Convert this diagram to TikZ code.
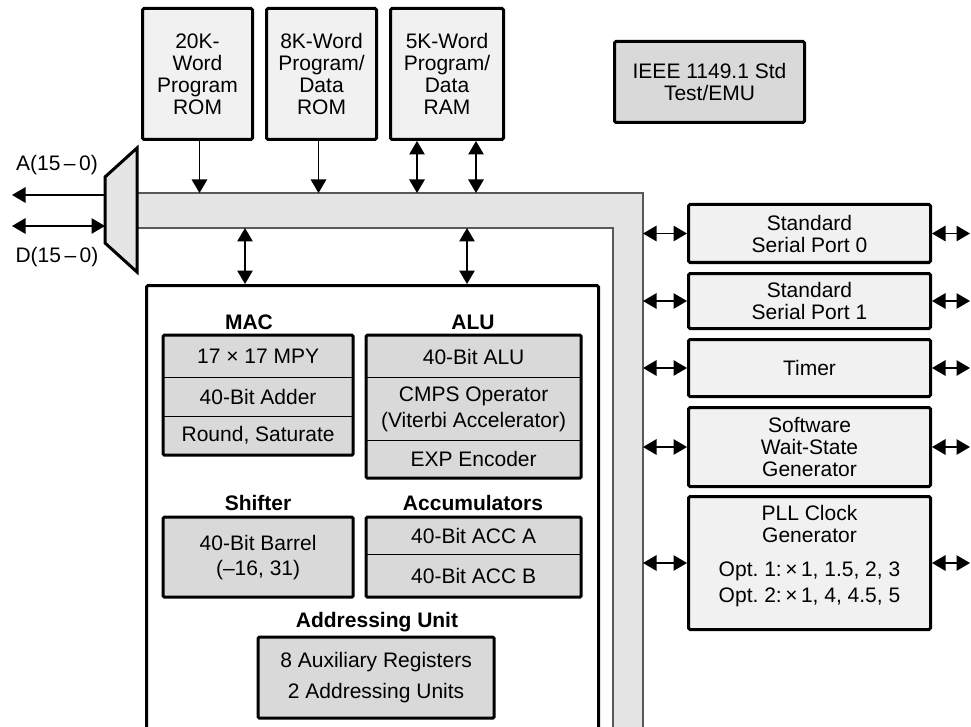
\documentclass[tikz,border=0pt]{standalone}
\usepackage{fontspec}
\setmainfont{Liberation Sans}
\usetikzlibrary{arrows.meta}
\frenchspacing
\definecolor{lightbox}{gray}{0.945}
\definecolor{midbox}{gray}{0.85}
\definecolor{busgray}{gray}{0.9}
\definecolor{busline}{gray}{0.35}
\tikzset{
  basefont/.style={font=\fontsize{21}{22}\selectfont},
  hdr/.style={font=\fontsize{21}{22}\selectfont\bfseries},
  frame/.style={draw=black, line width=3pt, rounded corners=1.5pt},
  membox/.style={frame, fill=lightbox, anchor=north west},
  midboxs/.style={frame, fill=midbox, anchor=north west},
  row/.style={draw=black, line width=1.2pt, fill=midbox, anchor=north west},
  tip/.tip={Triangle[length=13.5pt,width=15.5pt]},
  uni/.style={line width=1.3pt, -tip},
  bi/.style={line width=1.3pt, tip-tip},
  busedge/.style={draw=busline, line width=1.5pt}
}
\begin{document}
\begin{tikzpicture}[x=1pt,y=-1pt,
  every node/.style={basefont, align=center, inner sep=0pt}]
\useasboundingbox (0,0) rectangle (971,727);
\clip (0,0) rectangle (971,727);

% bus
\fill[busgray] (137,193) -- (643,193) -- (643,740) -- (613,740) -- (613,228) -- (137,228) -- cycle;
\draw[busedge] (137,193) -- (643,193) -- (643,740);
\draw[busedge] (137,228) -- (613,228) -- (613,740);
\coordinate (bustop) at (0,193);
\coordinate (busin) at (0,228);
\coordinate (busR) at (643,0);
\coordinate (edgeR) at (970,0);

% mux
\draw[line width=3pt, fill=busgray, line join=miter] (105,177) -- (137,148) -- (137,272) -- (105,243) -- cycle;
\coordinate (muxA) at (105,195);
\coordinate (muxD) at (105,226);
\coordinate (aEnd) at (12,195);
\coordinate (dEnd) at (12,226);
\node (alab) at (57,165) {A(15\,–\,0)};
\node (dlab) at (57,257) {D(15\,–\,0)};
\draw[uni] (muxA) -- (aEnd);
\draw[bi] (dEnd) -- (muxD);

% memories
\node[membox, minimum width=110pt, minimum height=131pt] (rom) at (141,7) {20K-\\Word\\Program\\ROM};
\node[membox, minimum width=110pt, minimum height=131pt] (drom) at (265,7) {8K-Word\\Program/\\Data\\ROM};
\node[membox, minimum width=113pt, minimum height=131pt] (ram) at (389,7) {5K-Word\\Program/\\Data\\RAM};
\node[midboxs, minimum width=190pt, minimum height=81pt] (ieee) at (613,40) {IEEE 1149.1 Std\\Test/EMU};

\draw[uni] ([xshift=2pt]rom.south) -- ([xshift=2pt]rom.south |- bustop);
\draw[uni] ([xshift=-3pt]drom.south) -- ([xshift=-3pt]drom.south |- bustop);
\draw[bi] ([xshift=-30pt]ram.south |- bustop) -- ([xshift=-30pt]ram.south);
\draw[bi] ([xshift=29pt]ram.south |- bustop) -- ([xshift=29pt]ram.south);

% CPU
\node[frame, anchor=north west, minimum width=452pt, minimum height=480pt] (cpu) at (145,284) {};
\draw[bi] ([xshift=100pt]cpu.north west |- busin) -- ([xshift=100pt]cpu.north west);
\draw[bi] ([xshift=322pt]cpu.north west |- busin) -- ([xshift=322pt]cpu.north west);

% MAC
\node[hdr] (machdr) at (249,322) {MAC};
\node[row, minimum width=189pt, minimum height=42pt] (mac1) at (163,335) {17 × 17 MPY};
\node[row, minimum width=189pt, minimum height=39pt] (mac2) at (163,377) {40-Bit Adder};
\node[row, minimum width=189pt, minimum height=38pt] (mac3) at (163,416) {Round, Saturate};
\draw[frame] (mac1.north west) rectangle (mac3.south east);

% ALU
\node[hdr] (aluhdr) at (473,322) {ALU};
\node[row, minimum width=214pt, minimum height=42pt] (alu1) at (366,335) {40-Bit ALU};
\node[row, minimum width=214pt, minimum height=63pt] (alu2) at (366,377) {CMPS Operator\\[4pt](Viterbi Accelerator)};
\node[row, minimum width=214pt, minimum height=37pt] (alu3) at (366,440) {EXP Encoder};
\draw[frame] (alu1.north west) rectangle (alu3.south east);

% Shifter
\node[hdr] (shhdr) at (258,503) {Shifter};
\node[row, minimum width=189pt, minimum height=79pt] (sh) at (163,517) {40-Bit Barrel\\[3pt](–16, 31)};
\draw[frame] (sh.north west) rectangle (sh.south east);

% Accumulators
\node[hdr] (acchdr) at (473,503) {Accumulators};
\node[row, minimum width=214pt, minimum height=37pt] (acc1) at (366,517) {40-Bit ACC A};
\node[row, minimum width=214pt, minimum height=42pt] (acc2) at (366,554) {40-Bit ACC B};
\draw[frame] (acc1.north west) rectangle (acc2.south east);

% Addressing
\node[hdr] (adhdr) at (377,622) {Addressing Unit};
\node[row, minimum width=235pt, minimum height=80pt] (addr) at (258,637) {8 Auxiliary Registers\\[9pt]2 Addressing Units};
\draw[frame] (addr.north west) rectangle (addr.south east);

% peripherals
\node[membox, minimum width=242pt, minimum height=58pt] (ssp0) at (687,203) {Standard\\Serial Port 0};
\node[membox, minimum width=242pt, minimum height=55pt] (ssp1) at (687,272) {Standard\\Serial Port 1};
\node[membox, minimum width=242pt, minimum height=57pt] (timer) at (687,338) {Timer};
\node[membox, minimum width=242pt, minimum height=79pt] (sws) at (687,406) {Software\\Wait-State\\Generator};
\node[membox, minimum width=242pt, minimum height=133pt] (pll) at (687,495) {};
\node (plltxt) at ([yshift=7pt]pll.center) {PLL Clock\\Generator\\[12pt]Opt.\ 1:\,×\,1, 1.5, 2, 3\\[4pt]Opt.\ 2:\,×\,1, 4, 4.5, 5};

\foreach \p in {ssp0,ssp1,timer,sws,pll}{
  \draw[bi] (busR |- \p.west) -- (\p.west);
  \draw[bi] (\p.east) -- (\p.east -| edgeR);
}
\end{tikzpicture}
\end{document}
